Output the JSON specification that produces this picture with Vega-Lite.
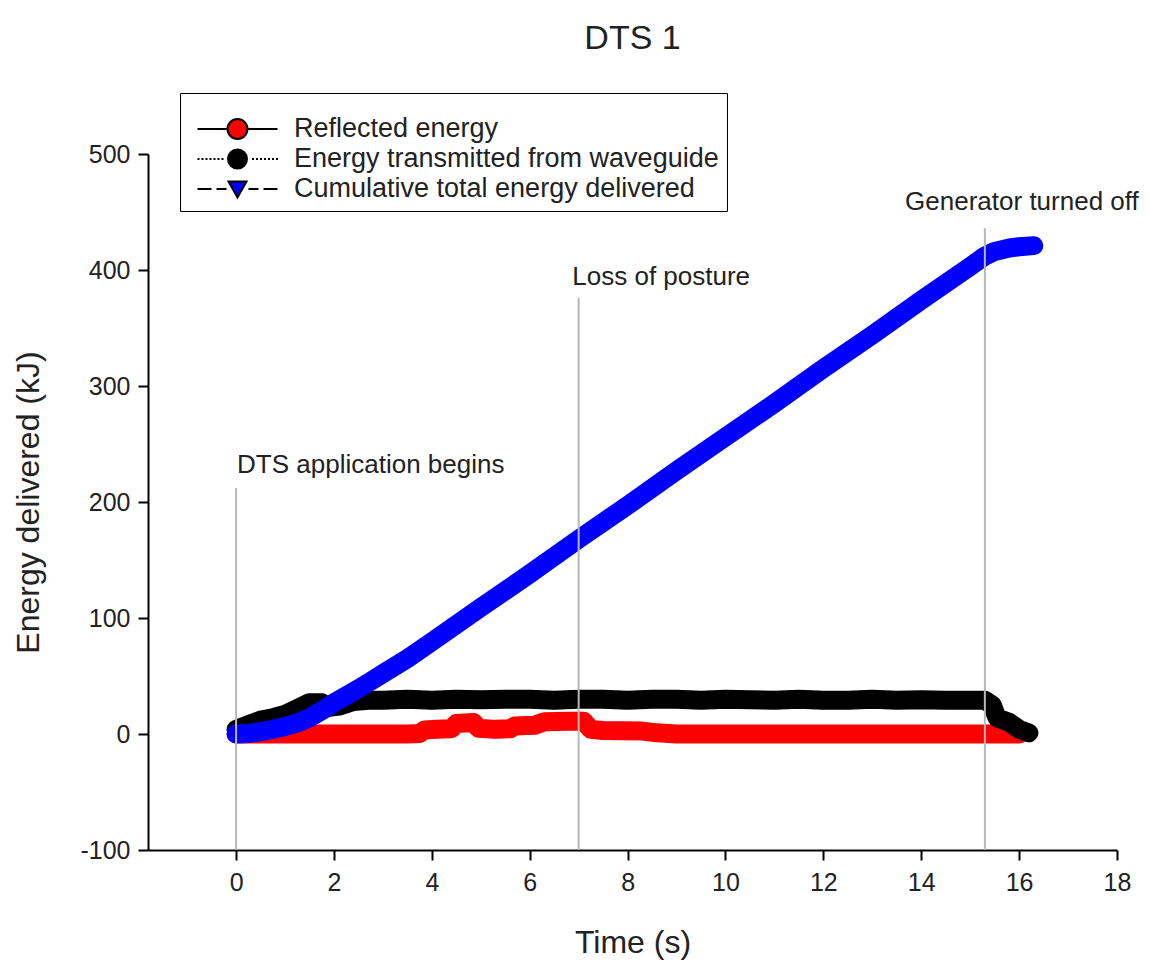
{
  "$schema": "https://vega.github.io/schema/vega-lite/v6.json",
  "width": 969,
  "height": 696,
  "autosize": {"type": "none"},
  "padding": {"left": 148, "top": 154, "right": 33, "bottom": 114},
  "background": "white",
  "config": {
    "view": {"stroke": null},
    "font": "Liberation Sans",
    "axis": {
      "domainColor": "#000", "domainWidth": 2, "tickColor": "#000", "tickWidth": 2, "tickSize": 10,
      "labelFont": "Liberation Sans", "labelFontSize": 25, "labelColor": "#222",
      "titleFont": "Liberation Sans", "titleFontSize": 32, "titleFontWeight": "normal", "titleColor": "#222",
      "grid": false, "labelFlush": false, "labelOverlap": false
    }
  },
  "title": {"text": "DTS 1", "fontSize": 34, "fontWeight": "normal", "color": "#222", "font": "Liberation Sans", "anchor": "middle", "offset": 37},
  "data": {"values": [
    {"series": "Reflected energy", "time": 0, "energy": 0},
    {"series": "Reflected energy", "time": 0.5, "energy": 0},
    {"series": "Reflected energy", "time": 1, "energy": 0},
    {"series": "Reflected energy", "time": 1.5, "energy": 0},
    {"series": "Reflected energy", "time": 2, "energy": 0},
    {"series": "Reflected energy", "time": 2.5, "energy": 0},
    {"series": "Reflected energy", "time": 3, "energy": 0},
    {"series": "Reflected energy", "time": 3.5, "energy": 0},
    {"series": "Reflected energy", "time": 3.75, "energy": 0.5},
    {"series": "Reflected energy", "time": 3.85, "energy": 3.5},
    {"series": "Reflected energy", "time": 4.1, "energy": 4},
    {"series": "Reflected energy", "time": 4.4, "energy": 4.5},
    {"series": "Reflected energy", "time": 4.5, "energy": 9},
    {"series": "Reflected energy", "time": 4.85, "energy": 10},
    {"series": "Reflected energy", "time": 4.95, "energy": 5},
    {"series": "Reflected energy", "time": 5.3, "energy": 4},
    {"series": "Reflected energy", "time": 5.6, "energy": 4.5},
    {"series": "Reflected energy", "time": 5.7, "energy": 7},
    {"series": "Reflected energy", "time": 6.1, "energy": 7.5},
    {"series": "Reflected energy", "time": 6.3, "energy": 10.5},
    {"series": "Reflected energy", "time": 6.8, "energy": 11},
    {"series": "Reflected energy", "time": 7.1, "energy": 11},
    {"series": "Reflected energy", "time": 7.25, "energy": 4},
    {"series": "Reflected energy", "time": 7.5, "energy": 3},
    {"series": "Reflected energy", "time": 8.3, "energy": 2.5},
    {"series": "Reflected energy", "time": 8.6, "energy": 1},
    {"series": "Reflected energy", "time": 9, "energy": 0},
    {"series": "Reflected energy", "time": 10, "energy": 0},
    {"series": "Reflected energy", "time": 11, "energy": 0},
    {"series": "Reflected energy", "time": 12, "energy": 0},
    {"series": "Reflected energy", "time": 13, "energy": 0},
    {"series": "Reflected energy", "time": 14, "energy": 0},
    {"series": "Reflected energy", "time": 15, "energy": 0},
    {"series": "Reflected energy", "time": 15.5, "energy": 0},
    {"series": "Reflected energy", "time": 16, "energy": 0},
    {"series": "Energy transmitted from waveguide", "time": 0, "energy": 4},
    {"series": "Energy transmitted from waveguide", "time": 0.25, "energy": 8},
    {"series": "Energy transmitted from waveguide", "time": 0.5, "energy": 12},
    {"series": "Energy transmitted from waveguide", "time": 0.75, "energy": 14},
    {"series": "Energy transmitted from waveguide", "time": 1, "energy": 17},
    {"series": "Energy transmitted from waveguide", "time": 1.25, "energy": 22},
    {"series": "Energy transmitted from waveguide", "time": 1.5, "energy": 27},
    {"series": "Energy transmitted from waveguide", "time": 1.75, "energy": 27},
    {"series": "Energy transmitted from waveguide", "time": 1.9, "energy": 23},
    {"series": "Energy transmitted from waveguide", "time": 2.1, "energy": 24},
    {"series": "Energy transmitted from waveguide", "time": 2.4, "energy": 28},
    {"series": "Energy transmitted from waveguide", "time": 2.7, "energy": 29},
    {"series": "Energy transmitted from waveguide", "time": 3, "energy": 29},
    {"series": "Energy transmitted from waveguide", "time": 3.5, "energy": 30},
    {"series": "Energy transmitted from waveguide", "time": 4, "energy": 29},
    {"series": "Energy transmitted from waveguide", "time": 4.5, "energy": 30},
    {"series": "Energy transmitted from waveguide", "time": 5, "energy": 29.5},
    {"series": "Energy transmitted from waveguide", "time": 5.5, "energy": 30},
    {"series": "Energy transmitted from waveguide", "time": 6, "energy": 30},
    {"series": "Energy transmitted from waveguide", "time": 6.5, "energy": 29},
    {"series": "Energy transmitted from waveguide", "time": 7, "energy": 30},
    {"series": "Energy transmitted from waveguide", "time": 7.5, "energy": 30},
    {"series": "Energy transmitted from waveguide", "time": 8, "energy": 29},
    {"series": "Energy transmitted from waveguide", "time": 8.5, "energy": 30},
    {"series": "Energy transmitted from waveguide", "time": 9, "energy": 30},
    {"series": "Energy transmitted from waveguide", "time": 9.5, "energy": 29},
    {"series": "Energy transmitted from waveguide", "time": 10, "energy": 30},
    {"series": "Energy transmitted from waveguide", "time": 10.5, "energy": 29.5},
    {"series": "Energy transmitted from waveguide", "time": 11, "energy": 29},
    {"series": "Energy transmitted from waveguide", "time": 11.5, "energy": 30},
    {"series": "Energy transmitted from waveguide", "time": 12, "energy": 29},
    {"series": "Energy transmitted from waveguide", "time": 12.5, "energy": 29},
    {"series": "Energy transmitted from waveguide", "time": 13, "energy": 30},
    {"series": "Energy transmitted from waveguide", "time": 13.5, "energy": 29},
    {"series": "Energy transmitted from waveguide", "time": 14, "energy": 29.5},
    {"series": "Energy transmitted from waveguide", "time": 14.5, "energy": 29},
    {"series": "Energy transmitted from waveguide", "time": 15, "energy": 29},
    {"series": "Energy transmitted from waveguide", "time": 15.3, "energy": 29},
    {"series": "Energy transmitted from waveguide", "time": 15.45, "energy": 25},
    {"series": "Energy transmitted from waveguide", "time": 15.55, "energy": 14},
    {"series": "Energy transmitted from waveguide", "time": 15.8, "energy": 10},
    {"series": "Energy transmitted from waveguide", "time": 16, "energy": 4},
    {"series": "Energy transmitted from waveguide", "time": 16.2, "energy": 1},
    {"series": "Cumulative total energy delivered", "time": 0, "energy": 0},
    {"series": "Cumulative total energy delivered", "time": 0.25, "energy": 0.5},
    {"series": "Cumulative total energy delivered", "time": 0.5, "energy": 2},
    {"series": "Cumulative total energy delivered", "time": 0.75, "energy": 4},
    {"series": "Cumulative total energy delivered", "time": 1, "energy": 6.5},
    {"series": "Cumulative total energy delivered", "time": 1.25, "energy": 9.5},
    {"series": "Cumulative total energy delivered", "time": 1.5, "energy": 14},
    {"series": "Cumulative total energy delivered", "time": 1.75, "energy": 20},
    {"series": "Cumulative total energy delivered", "time": 2, "energy": 27},
    {"series": "Cumulative total energy delivered", "time": 2.25, "energy": 33},
    {"series": "Cumulative total energy delivered", "time": 2.5, "energy": 39},
    {"series": "Cumulative total energy delivered", "time": 2.75, "energy": 45.5},
    {"series": "Cumulative total energy delivered", "time": 3, "energy": 52},
    {"series": "Cumulative total energy delivered", "time": 3.5, "energy": 65},
    {"series": "Cumulative total energy delivered", "time": 4, "energy": 79.5},
    {"series": "Cumulative total energy delivered", "time": 5, "energy": 109},
    {"series": "Cumulative total energy delivered", "time": 6, "energy": 138},
    {"series": "Cumulative total energy delivered", "time": 7, "energy": 168},
    {"series": "Cumulative total energy delivered", "time": 8, "energy": 197},
    {"series": "Cumulative total energy delivered", "time": 9, "energy": 227},
    {"series": "Cumulative total energy delivered", "time": 10, "energy": 256},
    {"series": "Cumulative total energy delivered", "time": 11, "energy": 285},
    {"series": "Cumulative total energy delivered", "time": 12, "energy": 315},
    {"series": "Cumulative total energy delivered", "time": 13, "energy": 344},
    {"series": "Cumulative total energy delivered", "time": 14, "energy": 374},
    {"series": "Cumulative total energy delivered", "time": 15, "energy": 403},
    {"series": "Cumulative total energy delivered", "time": 15.3, "energy": 412},
    {"series": "Cumulative total energy delivered", "time": 15.5, "energy": 416},
    {"series": "Cumulative total energy delivered", "time": 15.8, "energy": 419},
    {"series": "Cumulative total energy delivered", "time": 16, "energy": 420},
    {"series": "Cumulative total energy delivered", "time": 16.3, "energy": 421}
  ]},
  "layer": [
    {
      "transform": [{"filter": "datum.series === 'Reflected energy'"}],
      "mark": {"type": "line", "color": "#ff0000", "strokeWidth": 19, "strokeCap": "round", "strokeJoin": "round"},
      "encoding": {
        "x": {"field": "time", "type": "quantitative", "scale": {"domain": [-1.8, 18], "nice": false, "zero": false},
              "axis": {"values": [0, 2, 4, 6, 8, 10, 12, 14, 16, 18], "title": "Time (s)", "labelPadding": 10, "titlePadding": 32}},
        "y": {"field": "energy", "type": "quantitative", "scale": {"domain": [-100, 500], "nice": false, "zero": false},
              "axis": {"values": [-100, 0, 100, 200, 300, 400, 500], "title": "Energy delivered (kJ)", "labelPadding": 8, "titlePadding": 34, "labelExpr": "'' + datum.value"}}
      }
    },
    {
      "transform": [{"filter": "datum.series === 'Energy transmitted from waveguide'"}],
      "mark": {"type": "line", "color": "#000000", "strokeWidth": 19, "strokeCap": "round", "strokeJoin": "round"},
      "encoding": {
        "x": {"field": "time", "type": "quantitative"},
        "y": {"field": "energy", "type": "quantitative"}
      }
    },
    {
      "transform": [{"filter": "datum.series === 'Cumulative total energy delivered'"}],
      "mark": {"type": "line", "color": "#0000ff", "strokeWidth": 19, "strokeCap": "round", "strokeJoin": "round"},
      "encoding": {
        "x": {"field": "time", "type": "quantitative"},
        "y": {"field": "energy", "type": "quantitative"}
      }
    },
    {
      "mark": {"type": "point", "filled": true, "size": 0, "opacity": 1, "stroke": "#000", "strokeWidth": 2},
      "encoding": {
        "x": {"field": "time", "type": "quantitative"},
        "y": {"field": "energy", "type": "quantitative"},
        "color": {"field": "series", "type": "nominal",
                  "scale": {"domain": ["Reflected energy", "Energy transmitted from waveguide", "Cumulative total energy delivered"], "range": ["#ff0000", "#000000", "#0000ff"]},
                  "legend": {"orient": "none", "legendX": 32, "legendY": -61, "title": " ", "titleFontSize": 12, "titlePadding": 2,
                             "padding": 8, "strokeColor": "#000", "fillColor": "#fff",
                             "labelFont": "Liberation Sans", "labelFontSize": 27, "labelColor": "#222", "labelLimit": 600,
                             "symbolSize": 400, "symbolOffset": 36, "labelOffset": 43, "clipHeight": 28, "rowPadding": 2,
                             "symbolStrokeWidth": 2, "symbolStrokeColor": "#000", "symbolOpacity": 1}},
        "shape": {"field": "series", "type": "nominal",
                  "scale": {"domain": ["Reflected energy", "Energy transmitted from waveguide", "Cumulative total energy delivered"],
                            "range": [
                              "M-4,0L-1,0M1,0L4,0M1,0A1,1,0,1,1,-1,0A1,1,0,1,1,1,0Z",
                              "M-4,0h0.2M-3.6,0h0.2M-3.2,0h0.2M-2.8,0h0.2M-2.4,0h0.2M-2,0h0.2M-1.6,0h0.2M1.45,0h0.2M1.85,0h0.2M2.25,0h0.2M2.65,0h0.2M3.05,0h0.2M3.45,0h0.2M3.85,0h0.2M0.95,0A0.95,0.95,0,1,1,-0.95,0A0.95,0.95,0,1,1,0.95,0Z",
                              "M-4,0L-2.6,0M-2.1,0L-1.1,0M1.1,0L2.1,0M2.6,0L4,0M-0.9,-0.75L0.9,-0.75L0,0.85Z"
                            ]}}
      }
    },
    {
      "data": {"values": [
        {"time": 0, "top": 212},
        {"time": 7, "top": 376},
        {"time": 15.3, "top": 436}
      ]},
      "mark": {"type": "rule", "color": "#b8b8b8", "strokeWidth": 2},
      "encoding": {
        "x": {"field": "time", "type": "quantitative"},
        "y": {"field": "top", "type": "quantitative"},
        "y2": {"datum": -100}
      }
    },
    {
      "data": {"values": [
        {"time": 0.02, "energy": 232, "label": "DTS application begins"},
        {"time": 6.87, "energy": 394, "label": "Loss of posture"},
        {"time": 13.67, "energy": 459, "label": "Generator turned off"}
      ]},
      "mark": {"type": "text", "align": "left", "baseline": "middle", "font": "Liberation Sans", "fontSize": 26, "color": "#222"},
      "encoding": {
        "x": {"field": "time", "type": "quantitative"},
        "y": {"field": "energy", "type": "quantitative"},
        "text": {"field": "label"}
      }
    }
  ]
}
